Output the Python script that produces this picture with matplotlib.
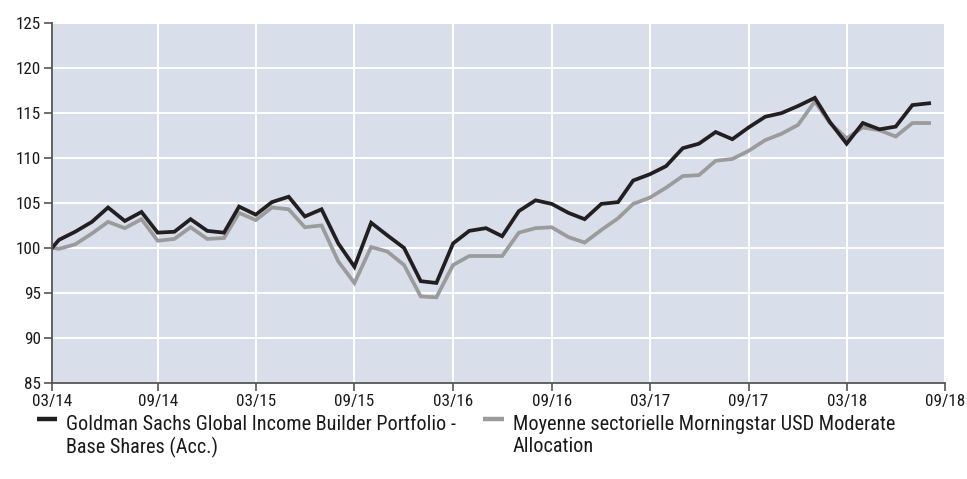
import matplotlib
matplotlib.use("Agg")
import matplotlib.pyplot as plt
from matplotlib import font_manager as fm
from matplotlib.lines import Line2D
import pandas as pd

# ---- pick a condensed/narrow face if one is installed ----
def pick_font():
    prefs = ["Liberation Sans Narrow", "Roboto Condensed", "Open Sans Condensed",
             "Noto Sans Condensed", "DejaVu Sans Condensed"]
    fonts = fm.fontManager.ttflist
    for p in prefs:
        for f in fonts:
            if f.name == p and f.style == "normal" and f.weight in (400, "normal", "regular"):
                return f.name, f.stretch
    for f in fonts:
        if f.style == "normal" and f.weight in (400, "normal", "regular") and \
                str(f.stretch) in ("condensed", "semi-condensed", "extra-condensed"):
            return f.name, f.stretch
    return "Liberation Sans", "normal"

fname, fstretch = pick_font()
plt.rcParams['font.family'] = [fname, 'DejaVu Sans']
plt.rcParams['font.stretch'] = fstretch

# ---- data ----
start_date = "2014-03-18"
month_ends = pd.date_range("2014-03-31", "2018-08-31", freq="ME")
dates = [pd.Timestamp(start_date)] + list(month_ends)

fund = [100.0,
        100.9, 101.8, 102.9, 104.5, 103.0, 104.0, 101.7, 101.8, 103.2, 101.9,
        101.7, 104.6, 103.7, 105.1, 105.7, 103.5, 104.3, 100.5, 97.9, 102.8,
        101.4, 100.0, 96.3, 96.1, 100.5, 101.9, 102.2, 101.3, 104.1, 105.3,
        104.9, 103.9, 103.2, 104.9, 105.1, 107.5, 108.2, 109.1, 111.1, 111.6,
        112.9, 112.1, 113.4, 114.6, 115.0, 115.8, 116.7, 114.0, 111.6, 113.9,
        113.2, 113.5, 115.9, 116.1]

sector = [100.0,
          99.9, 100.4, 101.6, 102.9, 102.2, 103.2, 100.8, 101.0, 102.3, 101.0,
          101.1, 103.9, 103.1, 104.5, 104.3, 102.3, 102.5, 98.5, 96.1, 100.1,
          99.6, 98.1, 94.6, 94.5, 98.1, 99.1, 99.1, 99.1, 101.7, 102.2,
          102.3, 101.2, 100.6, 102.0, 103.3, 104.9, 105.6, 106.7, 108.0, 108.1,
          109.7, 109.9, 110.8, 112.0, 112.7, 113.7, 116.3, 113.9, 112.2, 113.4,
          113.1, 112.4, 113.9, 113.9]

tick_dates = ["2014-03-18", "2014-09-30", "2015-03-31", "2015-09-30", "2016-03-31",
              "2016-09-30", "2017-03-31", "2017-09-30", "2018-03-31", "2018-09-30"]
tick_labels = ["03/14", "09/14", "03/15", "09/15", "03/16",
               "09/16", "03/17", "09/17", "03/18", "09/18"]
y_ticks = [85, 90, 95, 100, 105, 110, 115, 120, 125]

fund_label = "Goldman Sachs Global Income Builder Portfolio -\nBase Shares (Acc.)"
sector_label = "Moyenne sectorielle Morningstar USD Moderate\nAllocation"

# ---- figure ----
W, H = 967, 479
fig = plt.figure(figsize=(W / 100, H / 100), dpi=100)
left, right, top, bottom = 52, 945.3, 23.3, 382.7
ax = fig.add_axes([left / W, 1 - bottom / H, (right - left) / W, (bottom - top) / H])

bg = "#d9dfea"
black = "#231f20"
grey = "#9b9b9b"
axis_col = "#555555"
text_col = "#1a1a1a"

renderer = fig.canvas.get_renderer()

def fit_size(text, target_px, base=12.0):
    t = fig.text(0, 0, text, fontsize=base)
    w = t.get_window_extent(renderer).width
    t.remove()
    return base * target_px / w

tick_fs = 12.3
legend_fs = min(fit_size(fund_label.split("\n")[0], 389.0), 15.0)

ax.set_facecolor(bg)
ax.plot(dates, sector, color=grey, lw=2.7, solid_joinstyle="miter", zorder=3)
ax.plot(dates, fund, color=black, lw=2.7, solid_joinstyle="miter", zorder=4)

ax.set_xlim(pd.Timestamp(tick_dates[0]), pd.Timestamp(tick_dates[-1]))
ax.set_ylim(85, 125)
ax.set_xticks([pd.Timestamp(d) for d in tick_dates])
ax.set_xticklabels(tick_labels)
ax.set_yticks(y_ticks)
ax.set_yticklabels([str(v) for v in y_ticks])

ax.grid(True, color="white", lw=1.4, zorder=1)
ax.set_axisbelow(True)
for s in ["top", "right"]:
    ax.spines[s].set_visible(False)
for s in ["left", "bottom"]:
    ax.spines[s].set_color(axis_col)
    ax.spines[s].set_linewidth(1.3)
    ax.spines[s].set_zorder(5)
ax.tick_params(axis="both", direction="out", length=6, width=1.2, color=axis_col,
               labelsize=tick_fs, labelcolor=text_col)
ax.tick_params(axis="x", pad=2)
ax.tick_params(axis="y", pad=2)

# ---- legend ----
ly = 1 - 419 / H
fig.add_artist(Line2D([37 / W, 57 / W], [ly, ly], color=black, lw=3.2,
                      solid_capstyle="butt", transform=fig.transFigure))
fig.add_artist(Line2D([483 / W, 504 / W], [ly, ly], color=grey, lw=3.2,
                      solid_capstyle="butt", transform=fig.transFigure))
fig.text(66 / W, 1 - 415 / H, fund_label, fontsize=legend_fs, color=text_col, va="top",
         ha="left", linespacing=1.2)
fig.text(513 / W, 1 - 415 / H, sector_label, fontsize=legend_fs, color=text_col, va="top",
         ha="left", linespacing=1.2)

fig.savefig("out.png", dpi=100)
